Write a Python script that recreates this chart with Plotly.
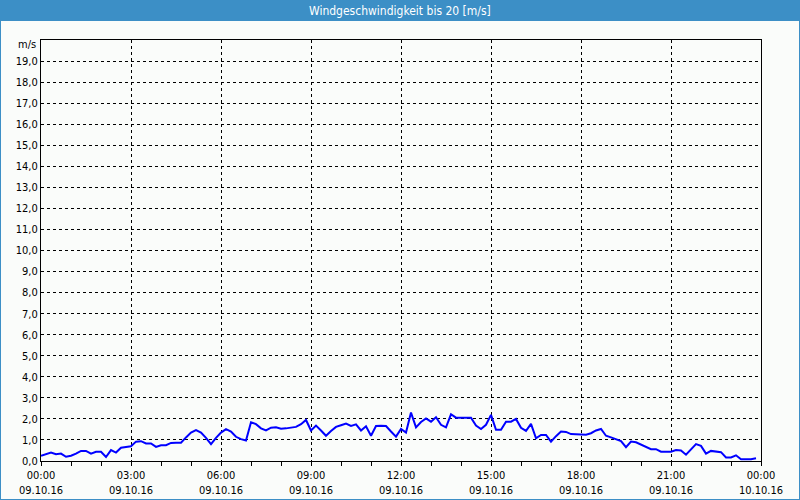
import plotly.graph_objects as go
import pandas as pd

# ---- data (10-minute samples, 09.10.16 00:00 .. 23:50) ----
start = "2016-10-09 00:00"
end = "2016-10-10 00:00"
wind_ms = [
    0.25, 0.32, 0.40, 0.32, 0.35, 0.20, 0.25, 0.35, 0.48, 0.48, 0.35, 0.44, 0.44, 0.19, 0.52,
    0.40, 0.63, 0.67, 0.70, 0.92, 0.94, 0.83, 0.83, 0.67, 0.75, 0.75, 0.86, 0.87, 0.87,
    1.12, 1.35, 1.47, 1.35, 1.10, 0.80, 1.10, 1.35, 1.51, 1.40, 1.15, 1.04, 0.97, 1.84, 1.75,
    1.55, 1.45, 1.58, 1.60, 1.53, 1.55, 1.60, 1.62, 1.75, 1.95, 1.45, 1.68, 1.45, 1.20,
    1.42, 1.62, 1.70, 1.78, 1.67, 1.74, 1.45, 1.65, 1.20, 1.66, 1.67, 1.66, 1.40, 1.16, 1.52,
    1.35, 2.30, 1.60, 1.85, 2.02, 1.87, 2.08, 1.72, 1.60, 2.22, 2.06, 2.06, 2.06, 2.06,
    1.68, 1.52, 1.72, 2.19, 1.48, 1.48, 1.87, 1.87, 2.00, 1.58, 1.43, 1.76, 1.08, 1.24, 1.24,
    0.92, 1.18, 1.40, 1.38, 1.28, 1.27, 1.26, 1.25, 1.32, 1.45, 1.52, 1.20, 1.12, 1.05,
    0.95, 0.66, 0.92, 0.89, 0.79, 0.68, 0.56, 0.56, 0.44, 0.44, 0.44, 0.52, 0.50, 0.30,
    0.55, 0.80, 0.72, 0.35, 0.48, 0.44, 0.42, 0.17, 0.17, 0.27, 0.08, 0.08, 0.08, 0.13,
]
times = pd.date_range(start, periods=len(wind_ms), freq="10min")

tick_times = pd.date_range(start, end, freq="3h")
tick_hours = ["00:00", "03:00", "06:00", "09:00", "12:00", "15:00", "18:00", "21:00", "00:00"]
tick_dates = ["09.10.16"] * 8 + ["10.10.16"]
x_ticktext = [f"{h}<br>{d}" for h, d in zip(tick_hours, tick_dates)]

y_tickvals = list(range(0, 20))
y_ticktext = [f"{v},0" for v in y_tickvals]

title_text = "Windgeschwindigkeit bis 20 [m/s]"
unit_text = "m/s"

# ---- layout geometry (pixels) ----
W, H = 800, 500
L, R, T, B = 41, 761, 40, 461
BAR = "#3c8fc6"
BG = "#fafcfa"
FONT = "DejaVu Sans Condensed, Liberation Sans, sans-serif"


def px_x(px):
    return (px - L) / (R - L)


def px_y(py):
    return (B - py) / (B - T)


fig = go.Figure(
    go.Scatter(x=times, y=wind_ms, mode="lines",
               line=dict(color="#0000ff", width=2), hoverinfo="skip")
)

fig.update_layout(
    width=W, height=H,
    margin=dict(l=L, r=W - R, t=T, b=H - B, pad=0),
    paper_bgcolor=BG, plot_bgcolor=BG,
    showlegend=False,
    font=dict(family=FONT, size=11, color="#000000"),
    shapes=[
        dict(type="rect", xref="paper", yref="paper",
             x0=px_x(0), x1=px_x(W), y0=px_y(21), y1=px_y(0),
             fillcolor=BAR, line=dict(width=0), layer="above"),
        dict(type="line", xref="paper", yref="paper",
             x0=px_x(0.5), x1=px_x(0.5), y0=px_y(21), y1=px_y(H),
             line=dict(color=BAR, width=1)),
        dict(type="line", xref="paper", yref="paper",
             x0=px_x(W - 0.5), x1=px_x(W - 0.5), y0=px_y(21), y1=px_y(H),
             line=dict(color=BAR, width=1)),
        dict(type="line", xref="paper", yref="paper",
             x0=px_x(0), x1=px_x(W), y0=px_y(H - 0.5), y1=px_y(H - 0.5),
             line=dict(color=BAR, width=1)),
    ],
    annotations=[
        dict(text=title_text, xref="paper", yref="paper",
             x=px_x(400), y=px_y(10.5), xanchor="center", yanchor="middle",
             showarrow=False, font=dict(family=FONT, size=12, color="#ffffff")),
        dict(text=unit_text, xref="paper", yref="paper",
             x=px_x(38), y=px_y(44), xanchor="right", yanchor="middle",
             showarrow=False, font=dict(family=FONT, size=11, color="#000000")),
    ],
)

fig.update_xaxes(
    range=[start, end], automargin=False,
    tickmode="array", tickvals=tick_times, ticktext=x_ticktext,
    showgrid=True, gridcolor="#000000", gridwidth=1, griddash="3px,3px",
    showline=True, linecolor="#000000", linewidth=1, mirror=True,
    ticks="outside", ticklen=4, tickcolor="#000000", tickwidth=1,
    minor=dict(dtick=3600000, ticks="outside", ticklen=4, tickcolor="#000000",
               showgrid=False),
    zeroline=False, tickfont=dict(size=11, color="#000000"),
)
fig.update_yaxes(
    range=[0, 20], automargin=False,
    tickmode="array", tickvals=y_tickvals, ticktext=y_ticktext,
    showgrid=True, gridcolor="#000000", gridwidth=1, griddash="3px,3px",
    showline=True, linecolor="#000000", linewidth=1, mirror=True,
    ticks="", zeroline=False, tickfont=dict(size=11, color="#000000"),
)

fig.write_html("out.html")
